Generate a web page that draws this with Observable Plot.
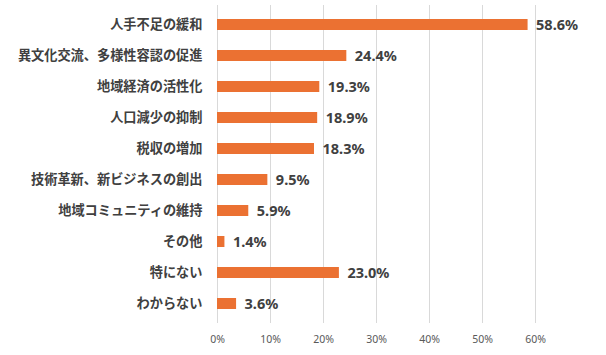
<!DOCTYPE html>
<html>
<head>
<meta charset="utf-8">
<script src="https://cdn.jsdelivr.net/npm/d3@7"></script>
<script src="https://cdn.jsdelivr.net/npm/@observablehq/plot@0.6"></script>
<style>
  body { margin: 0; background: #fff; }
  #chart { width: 606px; height: 355px; }
</style>
</head>
<body>
<div id="chart"></div>
<script>
const categories = [
  "人手不足の緩和",
  "異文化交流、多様性容認の促進",
  "地域経済の活性化",
  "人口減少の抑制",
  "税収の増加",
  "技術革新、新ビジネスの創出",
  "地域コミュニティの維持",
  "その他",
  "特にない",
  "わからない"
];
const values = [58.6, 24.4, 19.3, 18.9, 18.3, 9.5, 5.9, 1.4, 23.0, 3.6];
const xTicks = [0, 10, 20, 30, 40, 50, 60];

const data = categories.map((c, i) => ({category: c, value: values[i]}));

const chart = Plot.plot({
  width: 606,
  height: 355,
  marginLeft: 217,
  marginRight: 71,
  marginTop: 5,
  marginBottom: 32,
  style: {fontFamily: "'Noto Sans CJK JP', sans-serif", background: "#fff"},
  x: {domain: [0, 60]},
  y: {domain: categories, paddingInner: 0.65, paddingOuter: 0.33},
  marks: [
    Plot.ruleX(xTicks, {stroke: "#d9d9d9", strokeWidth: 1, strokeOpacity: 1}),
    Plot.barX(data, {x: "value", y: "category", fill: "#EB7132"}),
    Plot.text(data, {
      x: "value", y: "category",
      text: d => d.value.toFixed(1) + "%",
      textAnchor: "start", dx: 8,
      fontSize: 14.5, fontWeight: "bold", fill: "#404040",
      fontFamily: "'Noto Sans', 'DejaVu Sans', sans-serif"
    }),
    Plot.axisY({tickSize: 0, tickPadding: 15, fontSize: 13.2, fontWeight: "bold", color: "#404040", label: null}),
    Plot.axisX(xTicks, {tickSize: 0, tickPadding: 12, tickFormat: d => d + "%", fontSize: 10.5, color: "#595959", label: null, fontFamily: "'Noto Sans', sans-serif"})
  ]
});
document.getElementById("chart").appendChild(chart);
</script>
</body>
</html>
